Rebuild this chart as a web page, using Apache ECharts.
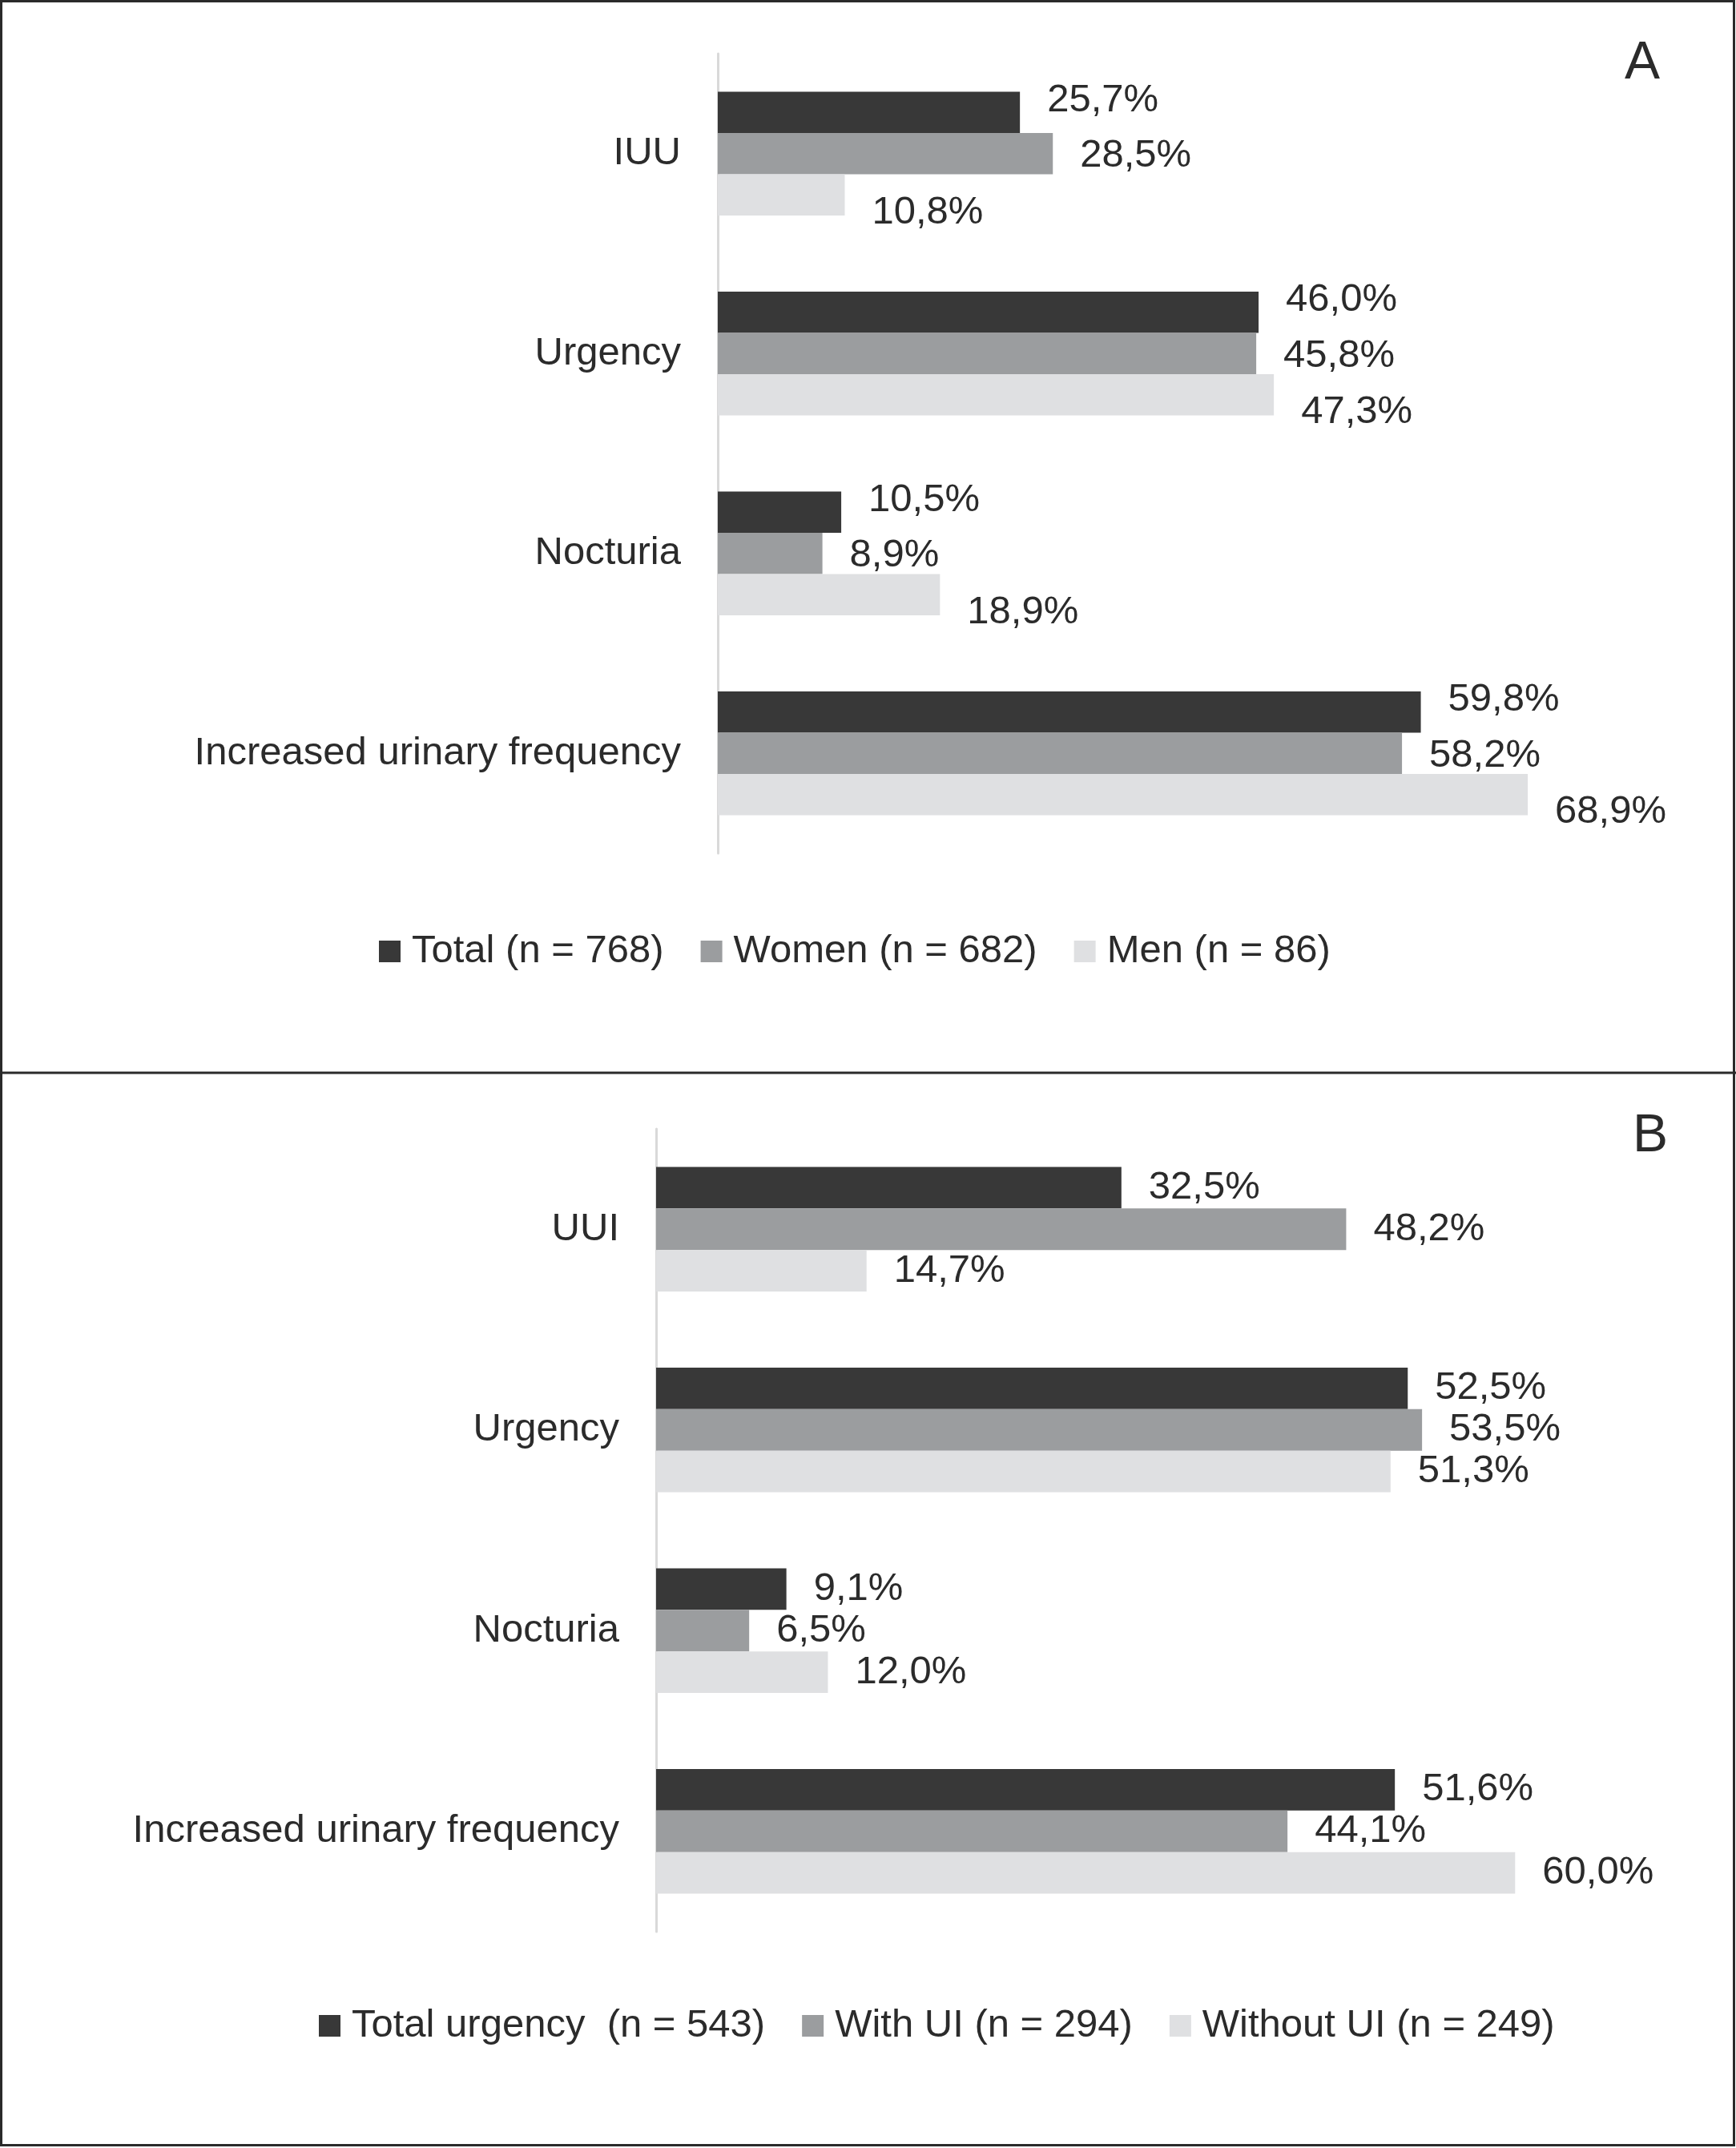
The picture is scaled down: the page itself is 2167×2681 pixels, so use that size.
<!DOCTYPE html>
<html>
<head>
<meta charset="utf-8">
<script src="https://cdn.jsdelivr.net/npm/echarts@6/dist/echarts.min.js"></script>
<style>
html,body{margin:0;padding:0;background:#fff;}
#chart{width:2167px;height:2681px;}
</style>
</head>
<body>
<div id="chart"></div>
<script>
// Panel A data
const catsA = ['IUU', 'Urgency', 'Nocturia', 'Increased urinary frequency'];
const namesA = ['Total (n = 768)', 'Women (n = 682)', 'Men (n = 86)'];
const totalA = [25.7, 46.0, 10.5, 59.8];
const womenA = [28.5, 45.8, 8.9, 58.2];
const menA = [10.8, 47.3, 18.9, 68.9];

// Panel B data
const catsB = ['UUI', 'Urgency', 'Nocturia', 'Increased urinary frequency'];
const namesB = ['Total urgency  (n = 543)', 'With UI (n = 294)', 'Without UI (n = 249)'];
const totalB = [32.5, 52.5, 9.1, 51.6];
const withUIB = [48.2, 53.5, 6.5, 44.1];
const withoutUIB = [14.7, 51.3, 12.0, 60.0];

const colors = ['#383838', '#9b9d9f', '#dfe0e2'];
const textColor = '#2b2b2b';
const FONT = '"Liberation Sans", Arial, sans-serif';
const FS = 49;

const fmt = p => p.value.toFixed(1).replace('.', ',') + '%';

function mkSeries(name, data, idx, color, offsetY) {
  return {
    name: name,
    type: 'bar',
    xAxisIndex: idx,
    yAxisIndex: idx,
    data: data,
    barGap: '0%',
    barCategoryGap: '38%',
    itemStyle: { color: color },
    label: {
      show: true,
      position: 'right',
      distance: 34,
      offset: [0, offsetY],
      formatter: fmt,
      fontSize: FS,
      fontFamily: FONT,
      color: textColor
    },
    emphasis: { disabled: true },
    animation: false
  };
}

const chart = echarts.init(document.getElementById('chart'), null, { renderer: 'canvas' });

const catAxis = (cats, idx) => ({
  type: 'category',
  gridIndex: idx,
  data: cats,
  inverse: true,
  axisLine: { show: true, lineStyle: { color: '#d9d9d9', width: 3 } },
  axisTick: { show: false },
  axisLabel: { fontSize: FS, fontFamily: FONT, color: textColor, margin: 46 }
});

const legendStyle = {
  orient: 'horizontal',
  icon: 'rect',
  itemWidth: 27,
  itemHeight: 27,
  itemGap: 46,
  selectedMode: false,
  textStyle: { fontSize: FS, fontFamily: FONT, color: textColor, padding: [0, 0, 0, 9] }
};

chart.setOption({
  backgroundColor: '#ffffff',
  animation: false,
  grid: [
    { left: 896, top: 67, width: 1174, height: 998 },
    { left: 819, top: 1409, width: 1251, height: 1002 }
  ],
  xAxis: [
    { type: 'value', gridIndex: 0, min: 0, max: 80, show: false, splitLine: { show: false } },
    { type: 'value', gridIndex: 1, min: 0, max: 70, show: false, splitLine: { show: false } }
  ],
  yAxis: [catAxis(catsA, 0), catAxis(catsB, 1)],
  legend: [
    Object.assign({ data: namesA, left: 468, top: 1158 }, legendStyle),
    Object.assign({ data: namesB, left: 393, top: 2499 }, legendStyle)
  ],
  series: [
    mkSeries(namesA[0], totalA, 0, colors[0], -15),
    mkSeries(namesA[1], womenA, 0, colors[1], 3),
    mkSeries(namesA[2], menA, 0, colors[2], 22),
    mkSeries(namesB[0], totalB, 1, colors[0], 0),
    mkSeries(namesB[1], withUIB, 1, colors[1], 0),
    mkSeries(namesB[2], withoutUIB, 1, colors[2], 0)
  ],
  graphic: [
    { type: 'rect', shape: { x: 1.5, y: 1.5, width: 2163, height: 2676 }, style: { fill: 'none', stroke: '#2a2a2a', lineWidth: 3 }, silent: true },
    { type: 'line', shape: { x1: 0, y1: 1339, x2: 2167, y2: 1339 }, style: { stroke: '#2a2a2a', lineWidth: 3 }, silent: true },
    { type: 'text', x: 2050, y: 80, style: { text: 'A', fontSize: 66, fontFamily: FONT, fill: textColor, align: 'center', verticalAlign: 'middle' }, silent: true },
    { type: 'text', x: 2060, y: 1419, style: { text: 'B', fontSize: 66, fontFamily: FONT, fill: textColor, align: 'center', verticalAlign: 'middle' }, silent: true }
  ]
});
</script>
</body>
</html>
